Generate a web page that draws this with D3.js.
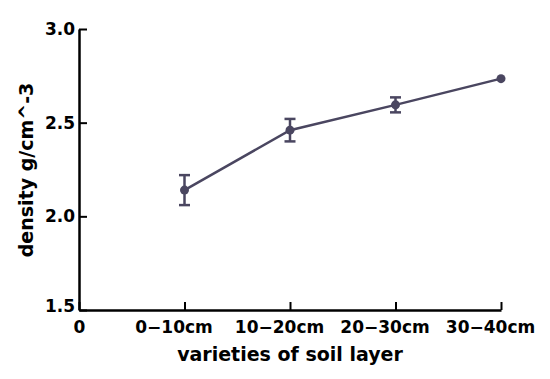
<!DOCTYPE html>
<html>
<head>
<meta charset="utf-8">
<script src="https://cdn.jsdelivr.net/npm/d3@7"></script>
<style>
  body { margin: 0; background: #fff; }
  text { font-family: "DejaVu Sans", sans-serif; font-weight: bold; }
</style>
</head>
<body>
<div id="chart-area"></div>
<script>
var layers = ["0−10cm", "10−20cm", "20−30cm", "30−40cm"];
var density = [2.14, 2.46, 2.595, 2.735];
var errors = [0.08, 0.06, 0.04, 0];
var yTicks = [1.5, 2.0, 2.5, 3.0];

var margin = {top: 29, right: 49, bottom: 69, left: 79},
    width = 550 - margin.left - margin.right,
    height = 379 - margin.top - margin.bottom;

var svg = d3.select("#chart-area")
    .append("svg")
    .attr("width", 550)
    .attr("height", 379)
    .append("g")
    .attr("transform", "translate(" + margin.left + "," + margin.top + ")");

var xScale = d3.scaleLinear().domain([0, 4]).range([0, 422]);
var yScale = d3.scaleLinear().domain([1.5, 3.0]).range([height, 0]);
var color = "#4a4660";

var xAxis = svg.append("g")
    .attr("transform", "translate(0," + height + ")")
    .call(d3.axisBottom(xScale)
        .tickValues([0, 1, 2, 3, 4])
        .tickSizeInner(-8).tickSizeOuter(0)
        .tickFormat(function(d) { return d === 0 ? "0" : layers[d - 1]; }));
xAxis.select(".domain").attr("stroke-width", 2.5);
xAxis.selectAll(".tick line").attr("stroke-width", 2);
xAxis.selectAll(".tick text").attr("font-size", 17).attr("y", 11).attr("fill", "#000")
    .attr("dx", function(d) { return d === 0 ? 0 : -11; })
    .style("font-family", "DejaVu Sans").style("font-weight", "bold");

var yAxis = svg.append("g")
    .call(d3.axisLeft(yScale)
        .tickValues(yTicks)
        .tickSizeInner(-8).tickSizeOuter(0)
        .tickFormat(d3.format(".1f")));
yAxis.select(".domain").attr("stroke-width", 2.5);
yAxis.selectAll(".tick line").attr("stroke-width", 2);
yAxis.selectAll(".tick text").attr("font-size", 17).attr("x", -4).attr("fill", "#000")
    .style("font-family", "DejaVu Sans").style("font-weight", "bold");
yAxis.selectAll(".tick text").filter(function(d) { return d === 1.5; }).attr("dy", "0.1em");

var line = d3.line()
    .x(function(d, i) { return xScale(i + 1); })
    .y(function(d) { return yScale(d); });

svg.append("path")
    .datum(density)
    .attr("d", line)
    .attr("fill", "none")
    .attr("stroke", color)
    .attr("stroke-width", 2.5);

var bars = svg.selectAll(".err")
    .data(density.map(function(v, i) { return {v: v, e: errors[i], i: i}; }).filter(function(d) { return d.e > 0; }))
    .enter().append("g").attr("class", "err");

bars.append("line")
    .attr("x1", function(d) { return xScale(d.i + 1); })
    .attr("x2", function(d) { return xScale(d.i + 1); })
    .attr("y1", function(d) { return yScale(d.v + d.e); })
    .attr("y2", function(d) { return yScale(d.v - d.e); })
    .attr("stroke", color).attr("stroke-width", 2.5);

[1, -1].forEach(function(s) {
    bars.append("line")
        .attr("x1", function(d) { return xScale(d.i + 1) - 5.5; })
        .attr("x2", function(d) { return xScale(d.i + 1) + 5.5; })
        .attr("y1", function(d) { return yScale(d.v + s * d.e); })
        .attr("y2", function(d) { return yScale(d.v + s * d.e); })
        .attr("stroke", color).attr("stroke-width", 2.5);
});

svg.selectAll("circle")
    .data(density)
    .enter().append("circle")
    .attr("cx", function(d, i) { return xScale(i + 1); })
    .attr("cy", function(d) { return yScale(d); })
    .attr("r", 4.5)
    .attr("fill", color);

svg.append("text")
    .attr("x", 211)
    .attr("y", height + 51)
    .attr("text-anchor", "middle")
    .attr("font-size", 19)
    .text("varieties of soil layer");

svg.append("text")
    .attr("transform", "rotate(-90)")
    .attr("x", -141)
    .attr("y", -46)
    .attr("text-anchor", "middle")
    .attr("font-size", 19)
    .text("density g/cm^-3");
</script>
</body>
</html>
